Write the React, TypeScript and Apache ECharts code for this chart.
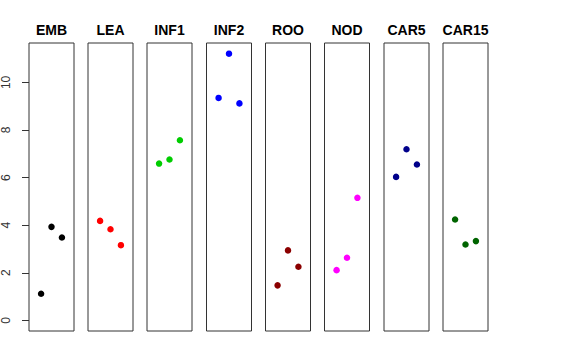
import React, { useEffect, useRef } from "react";
import * as echarts from "echarts";

const panels = ["EMB", "LEA", "INF1", "INF2", "ROO", "NOD", "CAR5", "CAR15"];
const colors = ["#000000", "#FF0000", "#00CD00", "#0000FF", "#8B0000", "#FF00FF", "#00008B", "#006400"];
const values: number[][] = [
  [1.12, 3.93, 3.48],
  [4.18, 3.83, 3.16],
  [6.59, 6.76, 7.57],
  [9.35, 11.21, 9.12],
  [1.47, 2.94, 2.25],
  [2.11, 2.63, 5.15],
  [6.03, 7.19, 6.55],
  [4.24, 3.19, 3.33],
];
const xPositions = [1, 2, 3];
const yTicks = [0, 2, 4, 6, 8, 10];

const panelLefts = [29, 88, 147, 206.5, 265.5, 324.5, 384, 443];
const panelWidth = 45;
const panelTop = 43;
const panelHeight = 288;

export default function App() {
  const ref = useRef<HTMLDivElement>(null);
  useEffect(() => {
    const chart = echarts.init(ref.current!, null, { renderer: "svg" });
    const yMax = 11.21;
    const pad = yMax * 0.04;
    const grid = panels.map((_, i) => ({
      left: panelLefts[i],
      top: panelTop,
      width: panelWidth,
      height: panelHeight,
      show: true,
      borderColor: "#333",
      borderWidth: 1,
      backgroundColor: "transparent",
    }));
    const xAxis = panels.map((_, i) => ({
      type: "value",
      gridIndex: i,
      min: -0.16,
      max: 4.16,
      show: false,
      axisLine: { onZero: false },
    }));
    const yAxis = panels.map((_, i) => ({
      type: "value",
      gridIndex: i,
      min: -pad,
      max: yMax + pad,
      show: i === 0,
      splitLine: { show: false },
      axisLine: { show: false, onZero: false },
      axisTick: {
        show: i === 0,
        customValues: yTicks,
        length: 7,
        lineStyle: { color: "#333" },
      },
      axisLabel: {
        show: i === 0,
        customValues: yTicks,
        rotate: 90,
        margin: 17,
        fontSize: 12,
        color: "#333",
        fontFamily: "Liberation Sans, Arial, sans-serif",
      },
    }));
    const series = panels.map((_, i) => ({
      type: "scatter",
      xAxisIndex: i,
      yAxisIndex: i,
      symbol: "circle",
      symbolSize: 6.5,
      itemStyle: { color: colors[i], opacity: 1 },
      data: values[i].map((v, j) => [xPositions[j], v]),
    }));
    const graphic = panels.map((name, i) => ({
      type: "text",
      x: panelLefts[i] + panelWidth / 2,
      y: 29.5,
      style: {
        text: name,
        textAlign: "center",
        textVerticalAlign: "middle",
        font: "bold 14px 'Liberation Sans', Arial, sans-serif",
        fill: "#000",
      },
    }));
    chart.setOption({
      animation: false,
      backgroundColor: "#fff",
      grid,
      xAxis,
      yAxis,
      series,
      graphic,
    });
    return () => chart.dispose();
  }, []);
  return (
    <div
      ref={ref}
      style={{ position: "fixed", left: 0, top: 0, width: 576, height: 360 }}
    />
  );
}
